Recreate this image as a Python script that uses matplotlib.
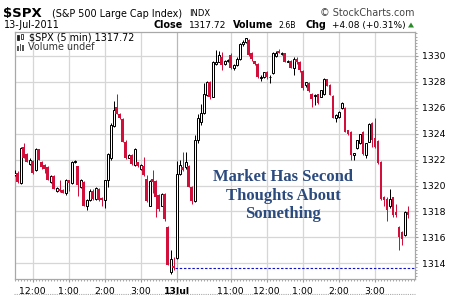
import matplotlib
matplotlib.use('Agg')
import matplotlib.pyplot as plt
from matplotlib.lines import Line2D
from matplotlib.patches import Polygon, Rectangle

# ---------------- data (5-min bars, 12 Jul 11:30 -> 13 Jul 3:55) ----------------
opens = [1320.8, 1321.0, 1320.2, 1323.0, 1322.4, 1321.7, 1321.9, 1321.2, 1322.8, 1321.8,
         1321.6, 1321.4, 1320.3, 1320.75, 1319.6, 1319.75, 1319.65, 1319.4, 1320.4, 1320.2,
         1321.8, 1321.5, 1319.9, 1320.3, 1318.4, 1318.9, 1319.6, 1318.95, 1319.7, 1319.05,
         1318.85, 1320.4, 1322.1, 1324.6, 1326.1, 1325.5, 1325.15, 1323.4, 1322.15, 1322.35,
         1321.6, 1321.8, 1321.25, 1321.5, 1320.5, 1318.45, 1320.5, 1320.35, 1319.3, 1318.45,
         1319.35, 1316.8, 1313.3, 1313.8,
         1314.4, 1320.9, 1321.4, 1321.4, 1321.5, 1319.9, 1318.8, 1323.5, 1324.9, 1325.6,
         1327.0, 1328.0, 1326.85, 1329.4, 1329.55, 1329.9, 1329.4, 1329.6, 1330.1, 1329.05,
         1329.3, 1329.8, 1330.9, 1331.1, 1331.2, 1330.2, 1329.6, 1329.4, 1328.3, 1328.35,
         1328.8, 1328.35, 1328.65, 1330.0, 1330.4, 1330.15, 1330.2, 1329.55, 1329.65, 1329.1,
         1329.8, 1329.55, 1328.85, 1327.75, 1327.9, 1327.1, 1326.9, 1327.05, 1326.85, 1327.1,
         1328.2, 1327.75, 1326.9, 1325.2, 1325.3, 1326.0, 1326.0, 1324.3, 1324.15, 1322.35,
         1322.9, 1323.3, 1324.1, 1322.36, 1323.4, 1324.8, 1323.65, 1323.45, 1321.85, 1319.1,
         1319.0, 1318.4, 1319.1, 1317.95, 1316.8, 1316.4, 1316.15, 1317.95]
highs = [1321.2, 1321.1, 1323.0, 1323.3, 1322.5, 1322.1, 1322.0, 1322.9, 1322.8, 1321.9,
         1321.7, 1321.5, 1320.8, 1320.8, 1319.9, 1320.4, 1319.7, 1320.5, 1320.45, 1321.9,
         1322.0, 1321.5, 1320.5, 1320.35, 1319.0, 1319.7, 1319.7, 1319.9, 1319.8, 1319.1,
         1320.45, 1322.5, 1324.8, 1326.5, 1327.1, 1325.6, 1325.2, 1323.5, 1322.45, 1322.4,
         1322.9, 1321.85, 1321.7, 1322.2, 1320.8, 1320.4, 1321.2, 1320.4, 1319.35, 1319.4,
         1319.4, 1316.85, 1315.0, 1314.5,
         1321.9, 1322.0, 1322.6, 1322.6, 1321.6, 1320.0, 1323.9, 1325.5, 1326.3, 1327.9,
         1328.1, 1328.1, 1329.6, 1330.45, 1330.4, 1330.3, 1329.7, 1329.8, 1330.2, 1329.4,
         1329.9, 1331.0, 1331.2, 1331.4, 1331.3, 1330.3, 1329.65, 1329.45, 1328.5, 1328.8,
         1328.85, 1328.5, 1330.3, 1330.35, 1330.5, 1330.3, 1330.25, 1329.7, 1329.7, 1329.9,
         1329.9, 1329.6, 1328.9, 1328.0, 1328.0, 1327.15, 1327.1, 1327.1, 1327.4, 1328.3,
         1328.25, 1327.8, 1326.95, 1325.5, 1325.75, 1326.45, 1326.1, 1324.3, 1324.2, 1322.5,
         1323.5, 1324.0, 1324.2, 1323.3, 1324.8, 1324.9, 1325.2, 1323.5, 1321.9, 1319.2,
         1319.1, 1319.7, 1319.15, 1318.6, 1316.85, 1316.5, 1318.0, 1318.4]
lows = [1320.7, 1320.2, 1320.1, 1322.1, 1321.8, 1321.6, 1320.9, 1321.1, 1322.0, 1321.3,
        1321.0, 1320.4, 1320.2, 1319.7, 1319.5, 1319.5, 1319.4, 1319.3, 1319.6, 1320.1,
        1321.75, 1319.2, 1319.8, 1318.4, 1318.1, 1318.8, 1318.9, 1318.9, 1318.8, 1318.4,
        1318.3, 1319.9, 1322.0, 1324.5, 1325.5, 1325.1, 1323.4, 1322.05, 1322.1, 1321.6,
        1321.5, 1321.4, 1321.2, 1320.75, 1318.75, 1318.4, 1319.4, 1317.6, 1318.0, 1318.4,
        1317.3, 1313.85, 1313.2, 1313.5,
        1314.3, 1320.8, 1321.1, 1321.3, 1319.9, 1318.6, 1318.7, 1323.3, 1324.7, 1325.5,
        1326.9, 1326.7, 1326.8, 1329.3, 1329.5, 1328.95, 1329.3, 1329.5, 1329.0, 1328.9,
        1329.2, 1329.7, 1330.8, 1331.0, 1330.0, 1329.6, 1329.3, 1328.3, 1328.1, 1328.3,
        1328.2, 1327.9, 1328.6, 1329.9, 1330.2, 1330.1, 1329.5, 1329.5, 1329.05, 1328.5,
        1329.4, 1328.8, 1327.4, 1327.6, 1327.2, 1326.1, 1326.2, 1326.3, 1326.8, 1327.0,
        1327.65, 1326.95, 1325.2, 1324.9, 1325.2, 1325.9, 1324.15, 1323.9, 1322.0, 1322.0,
        1322.85, 1323.2, 1322.35, 1322.1, 1323.35, 1322.95, 1322.9, 1321.7, 1318.9, 1318.4,
        1317.3, 1318.3, 1317.6, 1317.6, 1315.0, 1315.4, 1316.1, 1317.5]
closes = [1321.0, 1320.3, 1322.9, 1322.1, 1321.8, 1322.0, 1321.0, 1322.8, 1322.0, 1321.4,
          1321.3, 1320.4, 1320.75, 1319.7, 1319.8, 1319.6, 1319.4, 1320.4, 1320.2, 1321.8,
          1321.9, 1320.05, 1320.4, 1318.4, 1318.9, 1319.6, 1319.0, 1319.8, 1318.9, 1318.9,
          1320.4, 1322.4, 1324.7, 1325.8, 1325.5, 1325.2, 1323.4, 1322.15, 1322.35, 1321.7,
          1322.8, 1321.5, 1321.6, 1320.8, 1318.8, 1320.35, 1320.3, 1319.1, 1318.2, 1319.35,
          1317.4, 1313.9, 1314.3, 1313.64,
          1320.9, 1321.6, 1321.2, 1321.8, 1319.9, 1318.8, 1323.5, 1325.2, 1325.6, 1327.1,
          1328.0, 1326.85, 1329.5, 1329.55, 1330.1, 1329.3, 1329.6, 1329.7, 1329.05, 1329.3,
          1329.8, 1330.95, 1331.1, 1331.35, 1330.1, 1329.8, 1329.4, 1328.35, 1328.4, 1328.8,
          1328.35, 1328.4, 1330.25, 1330.25, 1330.25, 1330.25, 1329.55, 1329.6, 1329.1, 1329.8,
          1329.55, 1328.9, 1327.5, 1328.0, 1327.3, 1326.7, 1327.0, 1326.4, 1327.35, 1328.2,
          1327.7, 1327.0, 1325.2, 1325.45, 1325.7, 1326.4, 1324.15, 1324.0, 1322.35, 1322.5,
          1323.5, 1324.0, 1322.4, 1323.25, 1324.75, 1323.5, 1322.95, 1321.75, 1319.0, 1318.9,
          1318.1, 1319.0, 1317.7, 1317.7, 1316.0, 1315.85, 1317.95, 1317.72]

prev_close = 1313.64
tick_labels = ["12:00", "1:00", "2:00", "3:00", "13Jul", "11:00", "12:00", "1:00", "2:00", "3:00"]
tick_bars = [6, 18, 30, 42, 54, 72, 84, 96, 108, 120]   # bar index of each hour mark
y_ticks = [1314, 1316, 1318, 1320, 1322, 1324, 1326, 1328, 1330]

# ---------------- figure ----------------
W, H = 450, 295
fig = plt.figure(figsize=(4.5, 2.95), dpi=100)
fig.patch.set_facecolor('white')


def fx(x):
    return x / W


def fy(y):
    return 1 - y / H


L, R, T, B = 14.7, 415, 32, 279
ax = fig.add_axes([fx(L), fy(B), fx(R) - fx(L), fy(T) - fy(B)])
ax.set_xlim(0, 133.4)
ax.set_ylim(1312.79, 1331.85)

RED = '#d20f3a'
BLK = '#000000'
GRID = '#d6d6d6'

# grid
for t in y_ticks:
    ax.axhline(t, color=GRID, lw=0.9, zorder=0)
for b in tick_bars:
    ax.axvline(b, color='#b8b8b8' if b == 54 else GRID, lw=0.9, zorder=0)

# candles
for i, (o, h, l, c) in enumerate(zip(opens, highs, lows, closes)):
    upc = c >= o
    col = BLK if upc else RED
    ax.vlines(i, l, h, color=col, lw=0.72, zorder=3)
    body = max(abs(c - o), 0.04)
    if upc:
        ax.bar(i, body, bottom=min(o, c), width=0.72,
               facecolor='white', edgecolor=col, linewidth=0.72, zorder=4)
    else:
        ax.bar(i, body, bottom=min(o, c), width=0.85,
               facecolor=RED, edgecolor='none', linewidth=0, zorder=4)

# previous close line
ax.hlines(prev_close, 53.5, 133.4, colors='#1010c8', linestyles=(0, (2.2, 1.6)),
          lw=0.8, zorder=2)

# axes styling
for s in ax.spines.values():
    s.set_color('#a8a8a8')
    s.set_linewidth(0.9)
ax.yaxis.tick_right()
ax.set_yticks(y_ticks)
ax.set_yticklabels([str(t) for t in y_ticks], fontsize=6.7, family='DejaVu Sans')
ax.set_yticks([v / 4 for v in range(int(1312.79 * 4) + 1, int(1331.85 * 4) + 1)], minor=True)
ax.tick_params(axis='y', which='major', length=2.5, color='#999999', pad=2.5)
ax.tick_params(axis='y', which='minor', length=1.5, color='#999999')
ax.set_xticks(tick_bars)
ax.set_xticklabels(tick_labels, fontsize=6.7, family='DejaVu Sans')
for lab in ax.get_xticklabels():
    if lab.get_text() == '13Jul':
        lab.set_fontweight('bold')
ax.set_xticks(list(range(0, 134)), minor=True)
ax.tick_params(axis='x', which='major', length=2, color='#999999', pad=3.5)
ax.tick_params(axis='x', which='minor', length=1.5, color='#999999')

# annotation
ann_col = '#2b4a7e'
for txt, yb in [("Market Has Second", 181), ("Thoughts About", 199.5), ("Something", 218)]:
    fig.text(fx(283), fy(yb), txt, ha='center', va='baseline', fontsize=12,
             fontweight='bold', family='Liberation Serif', color=ann_col)

# header
fig.text(fx(3), fy(16.7), "$SPX", fontsize=9.5, fontweight='bold', va='baseline')
fig.text(fx(52), fy(16.7), "(S&P 500 Large Cap Index)", fontsize=6.9, va='baseline')
fig.text(fx(189), fy(16.3), "INDX", fontsize=6.0, va='baseline')
fig.text(fx(414), fy(16.3), "\u00a9 StockCharts.com", fontsize=6.9, va='baseline',
         ha='right', color='#444444')
fig.text(fx(4), fy(28.3), "13-Jul-2011", fontsize=6.9, va='baseline')
row = [(153, "Close", True, 6.9), (189, "1317.72", False, 6.6), (233, "Volume", True, 6.9),
       (278, "2.6B", False, 5.6), (306, "Chg", True, 6.9), (332, "+4.08 (+0.31%)", False, 6.5)]
for xx, t, bold, fs in row:
    fig.text(fx(xx), fy(28.3), t, fontsize=fs, va='baseline',
             fontweight='bold' if bold else 'normal')
fig.patches.append(Polygon([[fx(408), fy(27.5)], [fx(414), fy(27.5)], [fx(411), fy(22.5)]],
                           closed=True, transform=fig.transFigure, facecolor='#2a8a2a',
                           edgecolor='none'))

# legend inside chart
fig.text(fx(29), fy(40.3), "$SPX (5 min) 1317.72", fontsize=6.9, va='baseline')
fig.text(fx(28), fy(50.5), "Volume undef", fontsize=6.9, va='baseline', color='#333333')
# small candle icon
for (x0, y0, y1, hollow) in [(17, 35, 40, False), (21, 34, 39, True)]:
    fig.patches.append(Rectangle((fx(x0), fy(y1)), 2 / W, (y1 - y0) / H,
                                 transform=fig.transFigure,
                                 facecolor='white' if hollow else '#222222',
                                 edgecolor='#222222', lw=0.6))
# small volume icon
for (x0, hgt) in [(17, 5), (19.5, 7), (22, 6)]:
    fig.patches.append(Rectangle((fx(x0), fy(51)), 1.6 / W, hgt / H,
                                 transform=fig.transFigure, facecolor='#555555',
                                 edgecolor='none'))

# bottom dotted rule
fig.lines.append(Line2D([fx(14), fx(415)], [fy(294), fy(294)], transform=fig.transFigure,
                        color='#aaaaaa', lw=0.8, linestyle=(0, (1, 1))))

fig.savefig('out.png', dpi=100, facecolor='white')
